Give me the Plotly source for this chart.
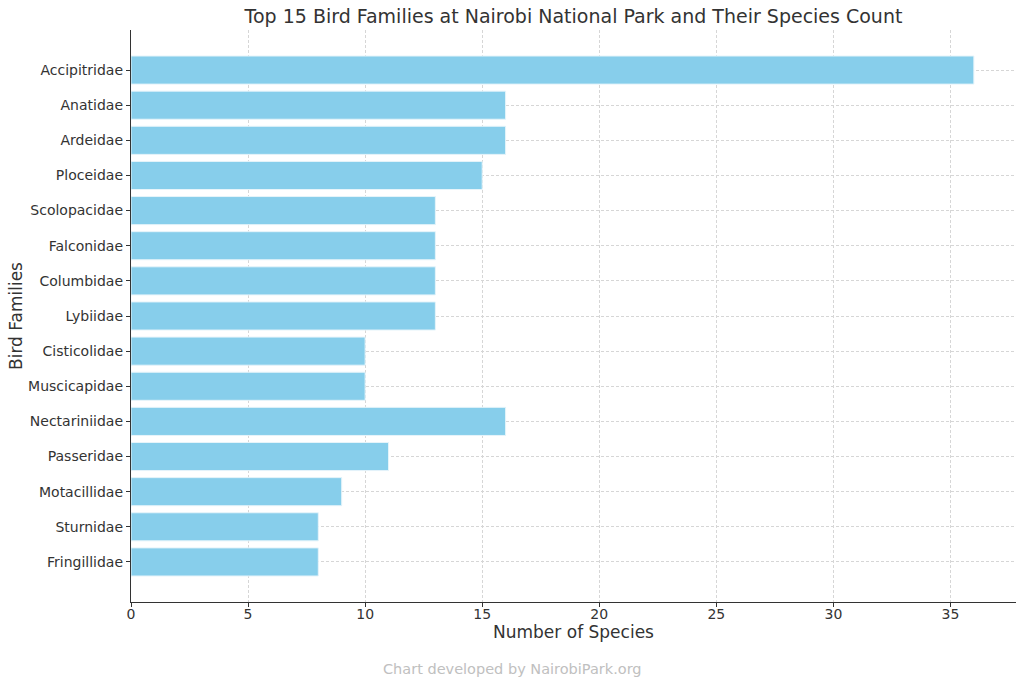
import plotly.graph_objects as go

families = ["Accipitridae", "Anatidae", "Ardeidae", "Ploceidae", "Scolopacidae",
            "Falconidae", "Columbidae", "Lybiidae", "Cisticolidae", "Muscicapidae",
            "Nectariniidae", "Passeridae", "Motacillidae", "Sturnidae", "Fringillidae"]
species_count = [36, 16, 16, 15, 13, 13, 13, 13, 10, 10, 16, 11, 9, 8, 8]
x_ticks = [0, 5, 10, 15, 20, 25, 30, 35]

font_family = "DejaVu Sans"
text_color = "#333333"

W, H = 1024, 686
L, R, T, B = 131, 8, 30, 84

fig = go.Figure()
fig.add_trace(go.Bar(
    y=families, x=species_count, orientation="h",
    marker=dict(color="#87CEEB", line=dict(color="#e6f4fa", width=1)),
    width=0.8,
))

n = len(families)
plot_w = W - L - R
plot_h = H - T - B
fig.update_layout(
    width=W, height=H,
    margin=dict(l=L, r=R, t=T, b=B, autoexpand=False),
    paper_bgcolor="white", plot_bgcolor="white",
    showlegend=False,
    font=dict(family=font_family, color=text_color, size=14),
    title=dict(text="Top 15 Bird Families at Nairobi National Park and Their Species Count",
               x=0.5, xanchor="center", xref="paper",
               y=1 - 16.5 / H, yanchor="middle",
               font=dict(size=19, color=text_color, family=font_family)),
    xaxis=dict(range=[0, max(species_count) * 1.05], tickvals=x_ticks,
               showgrid=True, gridcolor="#d6d6d6", griddash="3px,2px", gridwidth=0.8,
               showline=True, linecolor="#333333", linewidth=1.3,
               ticks="outside", ticklen=4, tickcolor="#333333",
               ticklabelstandoff=-5,
               zeroline=False, tickfont=dict(size=14, color=text_color),
               title=dict(text="Number of Species", font=dict(size=17, color=text_color), standoff=4)),
    yaxis=dict(categoryorder="array", categoryarray=families, autorange=False,
               range=[n - 1 + 1.14, -1.14],
               showgrid=True, gridcolor="#d6d6d6", griddash="3px,2px", gridwidth=0.8,
               showline=True, linecolor="#333333", linewidth=1.3,
               ticks="outside", ticklen=4, tickcolor="#333333",
               tickfont=dict(size=14, color=text_color),
               title=dict(text="Bird Families", font=dict(size=17, color=text_color), standoff=1)),
    annotations=[dict(text="Chart developed by NairobiPark.org",
                      x=(512 - L) / plot_w, xref="paper",
                      y=-(669 - (H - B)) / plot_h, yref="paper", yanchor="middle",
                      showarrow=False,
                      font=dict(size=14.5, color="#c0c0c0", family=font_family))],
)

fig.write_html("out.html", config={"displayModeBar": False},
               post_script="document.body.style.margin='0';")
